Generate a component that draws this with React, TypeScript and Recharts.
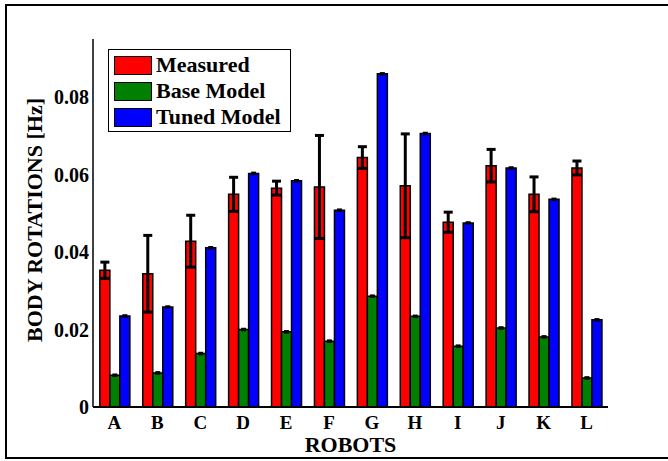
import { BarChart, Bar, XAxis, YAxis, ErrorBar } from 'recharts';

const robots = ['A', 'B', 'C', 'D', 'E', 'F', 'G', 'H', 'I', 'J', 'K', 'L'];
const measured = [0.0353, 0.0344, 0.0428, 0.0549, 0.0565, 0.0568, 0.0644, 0.0571, 0.0477, 0.0623, 0.0549, 0.0617];
const measuredStd = [0.0021, 0.0099, 0.0067, 0.0044, 0.0018, 0.0133, 0.0028, 0.0134, 0.0026, 0.0042, 0.0045, 0.0018];
const baseModel = [0.0082, 0.0088, 0.0138, 0.02, 0.0194, 0.017, 0.0286, 0.0234, 0.0157, 0.0204, 0.0181, 0.0075];
const tunedModel = [0.0235, 0.0258, 0.0411, 0.0603, 0.0584, 0.0508, 0.086, 0.0706, 0.0475, 0.0617, 0.0536, 0.0225];
const modelStd = 0.0002;
const yTicks = [0, 0.02, 0.04, 0.06, 0.08];

const series = [
  { key: 'measured', name: 'Measured', color: '#ff0000' },
  { key: 'base', name: 'Base Model', color: '#008000' },
  { key: 'tuned', name: 'Tuned Model', color: '#0000ff' },
];

const data = robots.map((r, i) => ({
  robot: r,
  measured: measured[i],
  measuredErr: measuredStd[i],
  base: baseModel[i],
  tuned: tunedModel[i],
  modelErr: modelStd,
}));

const FONT = '"Liberation Serif", "Times New Roman", serif';

function LegendBox() {
  return (
    <div style={{ position: 'absolute', left: 108, top: 49, width: 183, height: 83, border: '1.5px solid #000', background: '#fff', padding: '2px 0 0 5px', boxSizing: 'border-box' }}>
      {series.map(s => (
        <div key={s.key} style={{ display: 'flex', alignItems: 'center', height: 26, whiteSpace: 'nowrap' }}>
          <div style={{ width: 36, height: 17, background: s.color, border: '1.5px solid #000', marginRight: 4, flexShrink: 0 }} />
          <span style={{ fontFamily: FONT, fontWeight: 'bold', fontSize: 22, color: '#000', lineHeight: '26px' }}>{s.name}</span>
        </div>
      ))}
    </div>
  );
}

export default function App() {
  return (
    <div style={{ position: 'absolute', left: 0, top: 0, width: 668, height: 461, overflow: 'hidden', background: '#fff' }}>
      <div style={{ position: 'absolute', left: 5, top: 4, width: 700, height: 455, border: '2.5px solid #000', boxSizing: 'border-box' }} />
      <div style={{ position: 'absolute', left: 0, top: 0 }}>
        <BarChart width={668} height={461} data={data} margin={{ top: 39, right: 60, bottom: 24, left: 0 }}
          barCategoryGap="16%" barGap={0}>
          <XAxis dataKey="robot" height={30} tickSize={0} tickMargin={9}
            axisLine={{ stroke: '#000', strokeWidth: 2 }}
            tick={{ fontFamily: FONT, fontWeight: 'bold', fontSize: 19, fill: '#000' }}
            label={{
              content: ({ viewBox }: any) => (
                <text x={viewBox.x + viewBox.width / 2} y={452} textAnchor="middle"
                  fontFamily={FONT} fontWeight="bold" fontSize={22} fill="#000">ROBOTS</text>
              ),
            }} />
          <YAxis width={93} domain={[0, 0.095]} ticks={yTicks} tickSize={0} tickMargin={4}
            axisLine={{ stroke: '#000', strokeWidth: 1.5 }}
            tickFormatter={v => (v === 0 ? '0' : v.toFixed(2))}
            tick={{ fontFamily: FONT, fontWeight: 'bold', fontSize: 20, fill: '#000' }}
            label={{
              content: ({ viewBox }: any) => {
                const cy = viewBox.y + viewBox.height / 2 - 3;
                return (
                  <text x={42} y={cy} transform={`rotate(-90, 42, ${cy})`} textAnchor="middle"
                    fontFamily={FONT} fontWeight="bold" fontSize={22} fill="#000">BODY ROTATIONS [Hz]</text>
                );
              },
            }} />
          <Bar dataKey="measured" name="Measured" fill="#ff0000" stroke="#000" strokeWidth={1.5} isAnimationActive={false}>
            <ErrorBar dataKey="measuredErr" width={4.5} strokeWidth={3} stroke="#000" />
          </Bar>
          <Bar dataKey="base" name="Base Model" fill="#008000" stroke="#000" strokeWidth={1.5} isAnimationActive={false}>
            <ErrorBar dataKey="modelErr" width={2.5} strokeWidth={2} stroke="#000" />
          </Bar>
          <Bar dataKey="tuned" name="Tuned Model" fill="#0000ff" stroke="#000" strokeWidth={1.5} isAnimationActive={false}>
            <ErrorBar dataKey="modelErr" width={2.5} strokeWidth={2} stroke="#000" />
          </Bar>
        </BarChart>
      </div>
      <LegendBox />
    </div>
  );
}
